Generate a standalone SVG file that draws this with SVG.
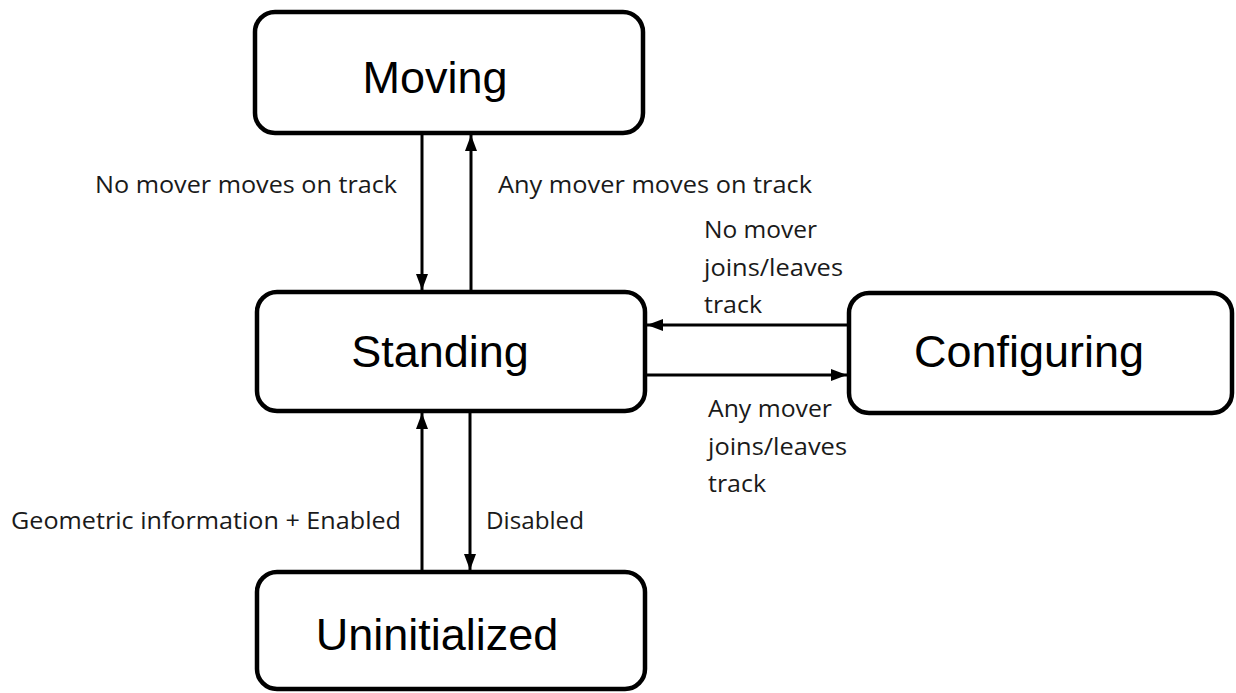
<svg xmlns="http://www.w3.org/2000/svg" width="1236" height="693" viewBox="0 0 1236 693">
<style>
.node rect{fill:#fff;stroke:#000;stroke-width:4.5}
.node text{font-family:"Liberation Sans",Arial,sans-serif;font-size:45px;fill:#000;text-anchor:middle}
.lbl{font-family:"Open Sans","Noto Sans",sans-serif;font-size:24px;fill:#1a1a1a}
.conn line{stroke:#000;stroke-width:3;fill:none}
</style>
<defs>
<marker id="ah" viewBox="0 0 16 12" refX="16" refY="6" markerWidth="16" markerHeight="12" markerUnits="userSpaceOnUse" orient="auto">
<path d="M0,0 L16,6 L0,12 Z" fill="#000"/>
</marker>
</defs>
<g id="connectors" class="conn">
<line x1="422" y1="135" x2="422" y2="290" marker-end="url(#ah)"/>
<line x1="471" y1="290" x2="471" y2="135" marker-end="url(#ah)"/>
<line x1="847" y1="325" x2="647" y2="325" marker-end="url(#ah)"/>
<line x1="647" y1="375" x2="847" y2="375" marker-end="url(#ah)"/>
<line x1="422" y1="570" x2="422" y2="413" marker-end="url(#ah)"/>
<line x1="470" y1="413" x2="470" y2="570" marker-end="url(#ah)"/>
</g>
<g id="moving" class="node">
<rect x="255" y="12" width="388" height="121" rx="20"/>
<text x="435" y="93">Moving</text>
</g>
<g id="standing" class="node">
<rect x="257" y="292" width="388" height="119" rx="20"/>
<text x="440" y="367">Standing</text>
</g>
<g id="configuring" class="node">
<rect x="849" y="293" width="383" height="120" rx="20"/>
<text x="1029" y="367">Configuring</text>
</g>
<g id="uninitialized" class="node">
<rect x="257" y="572" width="388" height="117" rx="20"/>
<text x="437" y="650">Uninitialized</text>
</g>
<g id="labels">
<text class="lbl" x="95" y="193" textLength="302" lengthAdjust="spacingAndGlyphs">No mover moves on track</text>
<text class="lbl" x="498" y="193" textLength="314" lengthAdjust="spacingAndGlyphs">Any mover moves on track</text>
<text class="lbl" x="704" y="238" textLength="113" lengthAdjust="spacingAndGlyphs">No mover</text>
<text class="lbl" x="704" y="276" textLength="139" lengthAdjust="spacingAndGlyphs">joins/leaves</text>
<text class="lbl" x="704" y="313" textLength="58" lengthAdjust="spacingAndGlyphs">track</text>
<text class="lbl" x="708" y="417" textLength="124" lengthAdjust="spacingAndGlyphs">Any mover</text>
<text class="lbl" x="708" y="455" textLength="139" lengthAdjust="spacingAndGlyphs">joins/leaves</text>
<text class="lbl" x="708" y="492" textLength="58" lengthAdjust="spacingAndGlyphs">track</text>
<text class="lbl" x="11" y="529" textLength="390" lengthAdjust="spacingAndGlyphs">Geometric information + Enabled</text>
<text class="lbl" x="486" y="529" textLength="98" lengthAdjust="spacingAndGlyphs">Disabled</text>
</g>
</svg>
